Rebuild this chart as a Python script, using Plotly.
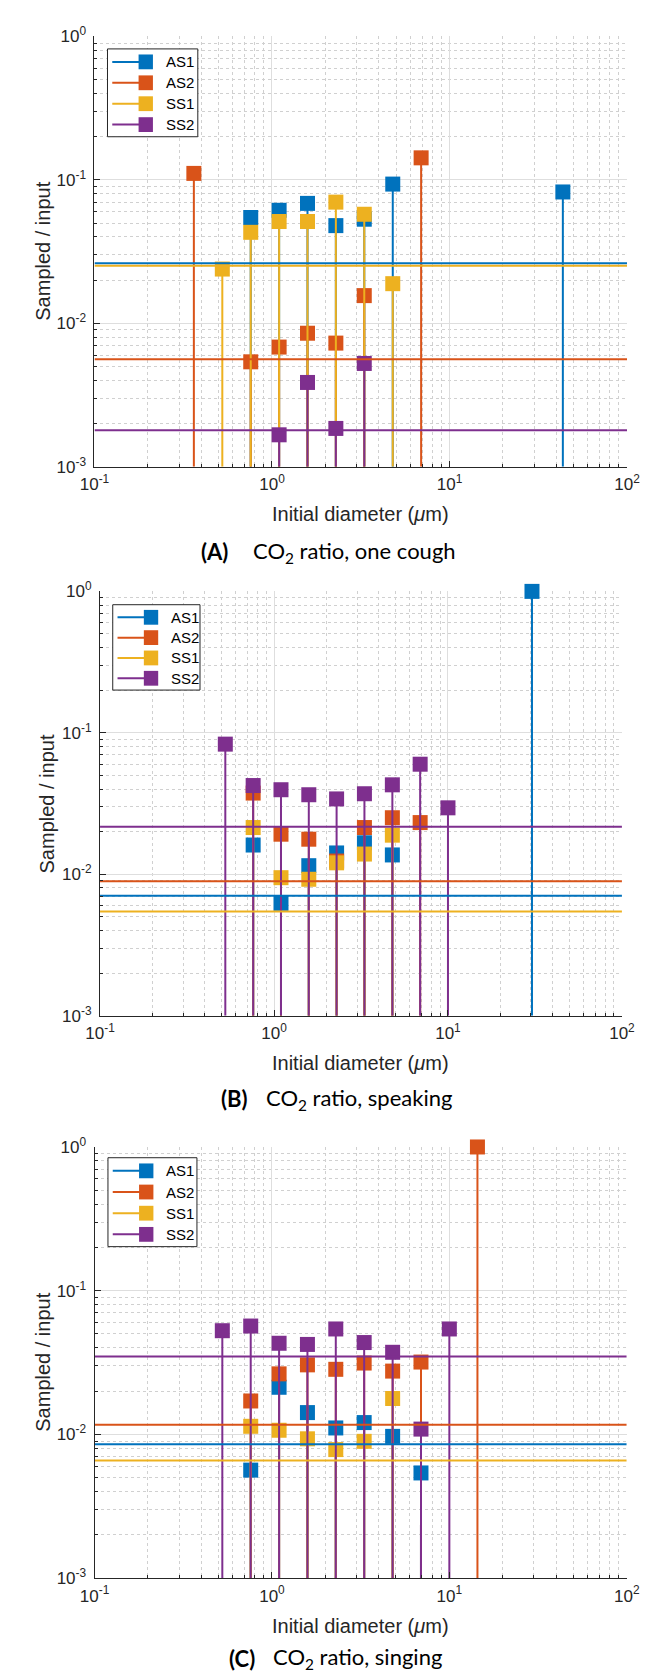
import plotly.graph_objects as go

W, H = 648, 1672

SERIES = ["AS1", "AS2", "SS1", "SS2"]
COLORS = {"AS1": "#0072BD", "AS2": "#D95319", "SS1": "#EDB120", "SS2": "#7E2F8E"}

# ---------------- Panel A: one cough ----------------
A_AS1_x = [0.759, 1.097, 1.585, 2.29, 3.31, 4.79, 43.5]
A_AS1_y = [0.0547, 0.0614, 0.0686, 0.048, 0.0532, 0.0935, 0.0824]
A_AS2_x = [0.363, 0.759, 1.097, 1.585, 2.29, 3.31, 6.92]
A_AS2_y = [0.111, 0.00539, 0.00683, 0.00853, 0.00728, 0.0156, 0.1425]
A_SS1_x = [0.525, 0.759, 1.097, 1.585, 2.29, 3.31, 4.79]
A_SS1_y = [0.0239, 0.0431, 0.0513, 0.0513, 0.070, 0.0576, 0.0189]
A_SS2_x = [1.097, 1.585, 2.29, 3.31]
A_SS2_y = [0.00167, 0.00387, 0.00185, 0.00525]
A_MEAN = {"AS1": 0.0262, "AS2": 0.00562, "SS1": 0.0252, "SS2": 0.0018}

# ---------------- Panel B: speaking ----------------
B_AS1_x = [0.759, 1.097, 1.585, 2.29, 3.31, 4.79, 30.4]
B_AS1_y = [0.0161, 0.00623, 0.0115, 0.01415, 0.0167, 0.0137, 1.0]
B_AS2_x = [0.759, 1.097, 1.585, 2.29, 3.31, 4.79, 6.92]
B_AS2_y = [0.0375, 0.0192, 0.0177, 0.0124, 0.0214, 0.0251, 0.0232]
B_SS1_x = [0.759, 1.097, 1.585, 2.29, 3.31, 4.79]
B_SS1_y = [0.0214, 0.00946, 0.00922, 0.01205, 0.0139, 0.0189]
B_SS2_x = [0.525, 0.759, 1.097, 1.585, 2.29, 3.31, 4.79, 6.92, 10.0]
B_SS2_y = [0.0832, 0.0424, 0.0396, 0.0365, 0.0341, 0.0371, 0.0429, 0.060, 0.0295]
B_MEAN = {"AS1": 0.00705, "AS2": 0.00893, "SS1": 0.00546, "SS2": 0.0217}

# ---------------- Panel C: singing ----------------
C_AS1_x = [0.759, 1.097, 1.585, 2.29, 3.31, 4.79, 6.92]
C_AS1_y = [0.00565, 0.0213, 0.0142, 0.0111, 0.0121, 0.0097, 0.0054]
C_AS2_x = [0.759, 1.097, 1.585, 2.29, 3.31, 4.79, 6.92, 14.4]
C_AS2_y = [0.0171, 0.0264, 0.0305, 0.0284, 0.0314, 0.0276, 0.0319, 1.0]
C_SS1_x = [0.759, 1.097, 1.585, 2.29, 3.31, 4.79]
C_SS1_y = [0.0114, 0.0107, 0.00933, 0.00785, 0.00896, 0.0178]
C_SS2_x = [0.525, 0.759, 1.097, 1.585, 2.29, 3.31, 4.79, 6.92, 10.0]
C_SS2_y = [0.0527, 0.0568, 0.0431, 0.0423, 0.0542, 0.0436, 0.0373, 0.0109, 0.0542]
C_MEAN = {"AS1": 0.00855, "AS2": 0.0117, "SS1": 0.0066, "SS2": 0.0348}

CAPTION_TAGS = ["(A)", "(B)", "(C)"]
CAPTION_TEXTS = ["CO<sub>2</sub> ratio, one cough",
                 "CO<sub>2</sub> ratio, speaking",
                 "CO<sub>2</sub> ratio, singing"]

X_RANGE = [0.1, 100.0]
Y_BOTTOM = 1e-3
X_TICKS = [0.1, 1, 10, 100]
X_TICKTEXT = ["10<sup>-1</sup>", "10<sup>0</sup>", "10<sup>1</sup>", "10<sup>2</sup>"]
Y_TICKS = [0.001, 0.01, 0.1, 1]
Y_TICKTEXT = ["10<sup>-3</sup>", "10<sup>-2</sup>", "10<sup>-1</sup>", "10<sup>0</sup>"]
X_MINOR = [m * 10.0 ** e for e in range(-1, 2) for m in range(2, 10)]
Y_MINOR = [m * 10.0 ** e for e in range(-3, 0) for m in range(2, 10)]

XLABEL = "Initial diameter (<i>μ</i>m)"
YLABEL = "Sampled / input"

PANEL_DATA = [
    {"AS1": (A_AS1_x, A_AS1_y), "AS2": (A_AS2_x, A_AS2_y),
     "SS1": (A_SS1_x, A_SS1_y), "SS2": (A_SS2_x, A_SS2_y), "mean": A_MEAN},
    {"AS1": (B_AS1_x, B_AS1_y), "AS2": (B_AS2_x, B_AS2_y),
     "SS1": (B_SS1_x, B_SS1_y), "SS2": (B_SS2_x, B_SS2_y), "mean": B_MEAN},
    {"AS1": (C_AS1_x, C_AS1_y), "AS2": (C_AS2_x, C_AS2_y),
     "SS1": (C_SS1_x, C_SS1_y), "SS2": (C_SS2_x, C_SS2_y), "mean": C_MEAN},
]

# layout geometry (pixels)
PLOT_BOX = [(74.7, 16.7, 631.3, 452.7), (80.5, 579.0, 626.0, 1009.0), (74.8, 1142.0, 631.0, 1579.0)]
LEGEND_BOX = [(88.3, 29.3, 182.7, 118.3), (93.8, 592.5, 185.0, 679.0), (88.8, 1152.9, 181.8, 1243.0)]
CAPTION_Y = [539, 1093, 1660]
CAPTION_TAG_X = [184, 205, 213]
CAPTION_TEXT_X = [238, 252, 259]
XLABEL_Y = [501, 1057, 1627]
YLABEL_X = [20, 25, 20]


def px(xp):
    return xp / W


def py(yp):
    return 1 - yp / H


fig = go.Figure()
AXIS_COLOR = "#262626"
TICK_FONT = dict(family="Liberation Sans, Arial, sans-serif", size=17, color=AXIS_COLOR)
LABEL_FONT = dict(family="Liberation Sans, Arial, sans-serif", size=20, color=AXIS_COLOR)

layout_axes = {}
annotations = []
shapes = []

for i, pdata in enumerate(PANEL_DATA):
    n = "" if i == 0 else str(i + 1)
    xa, ya = "x" + n, "y" + n
    # stems + markers
    for s in SERIES:
        xs, ys = pdata[s]
        sx, sy = [], []
        for xv, yv in zip(xs, ys):
            sx += [xv, xv, None]
            sy += [Y_BOTTOM, yv, None]
        fig.add_trace(go.Scatter(x=sx, y=sy, mode="lines", xaxis=xa, yaxis=ya,
                                 line=dict(color=COLORS[s], width=2),
                                 showlegend=False, hoverinfo="skip"))
        fig.add_trace(go.Scatter(x=xs, y=ys, mode="markers", xaxis=xa, yaxis=ya, name=s,
                                 marker=dict(symbol="square", size=15, color=COLORS[s],
                                             line=dict(width=0)),
                                 cliponaxis=False, showlegend=False))
    # mean lines
    for s in SERIES:
        fig.add_trace(go.Scatter(x=X_RANGE, y=[pdata["mean"][s]] * 2, mode="lines",
                                 xaxis=xa, yaxis=ya, line=dict(color=COLORS[s], width=2),
                                 showlegend=False, hoverinfo="skip"))

    x0, y0, x1, y1 = PLOT_BOX[i]
    common = dict(type="log", showline=True, linecolor=AXIS_COLOR, linewidth=1,
                  ticks="inside", ticklen=6, tickcolor=AXIS_COLOR, tickwidth=1,
                  showgrid=True, gridcolor="#dedede", gridwidth=1, zeroline=False,
                  mirror=False, tickfont=TICK_FONT)
    layout_axes["xaxis" + n] = dict(
        common, domain=[px(x0), px(x1)], range=[-1, 2], anchor=ya,
        tickmode="array", tickvals=X_TICKS, ticktext=X_TICKTEXT, ticklabelstandoff=2,
        minor=dict(tickmode="array", tickvals=X_MINOR, ticks="inside", ticklen=3,
                   tickcolor=AXIS_COLOR, showgrid=True, gridcolor="#d0d0d0",
                   griddash="dot", gridwidth=1))
    layout_axes["yaxis" + n] = dict(
        common, domain=[py(y1), py(y0)], range=[-3, 0], anchor=xa,
        tickmode="array", tickvals=Y_TICKS, ticktext=Y_TICKTEXT, ticklabelstandoff=4,
        minor=dict(tickmode="array", tickvals=Y_MINOR, ticks="inside", ticklen=3,
                   tickcolor=AXIS_COLOR, showgrid=True, gridcolor="#d0d0d0",
                   griddash="dot", gridwidth=1))

    # axis titles
    annotations.append(dict(text=XLABEL, x=px((x0 + x1) / 2), y=py(XLABEL_Y[i]),
                            xref="paper", yref="paper", xanchor="center", yanchor="middle",
                            showarrow=False, font=LABEL_FONT))
    annotations.append(dict(text=YLABEL, x=px(YLABEL_X[i]), y=py((y0 + y1) / 2),
                            xref="paper", yref="paper", xanchor="center", yanchor="middle",
                            textangle=-90, showarrow=False, font=LABEL_FONT))
    # captions
    annotations.append(dict(text="<b>" + CAPTION_TAGS[i] + "</b>", x=px(CAPTION_TAG_X[i]),
                            y=py(CAPTION_Y[i]), xref="paper", yref="paper",
                            xanchor="left", yanchor="middle", showarrow=False,
                            font=dict(family="Lato, sans-serif", size=22, color="black")))
    annotations.append(dict(text=CAPTION_TEXTS[i], x=px(CAPTION_TEXT_X[i]),
                            y=py(CAPTION_Y[i]), xref="paper", yref="paper",
                            xanchor="left", yanchor="middle", showarrow=False,
                            font=dict(family="Lato, sans-serif", size=22, color="black")))

    # legend box
    lx0, ly0, lx1, ly1 = LEGEND_BOX[i]
    shapes.append(dict(type="rect", xref="paper", yref="paper",
                       x0=px(lx0), x1=px(lx1), y0=py(ly1), y1=py(ly0),
                       line=dict(color=AXIS_COLOR, width=1), fillcolor="white", layer="above"))
    row_h = (ly1 - ly0) / 4.2
    for k, s in enumerate(SERIES):
        ry = ly0 + row_h * (0.62 + k)
        mx = lx0 + 40
        shapes.append(dict(type="line", xref="paper", yref="paper",
                           x0=px(lx0 + 5), x1=px(mx), y0=py(ry), y1=py(ry),
                           line=dict(color=COLORS[s], width=2), layer="above"))
        shapes.append(dict(type="rect", xref="paper", yref="paper",
                           x0=px(mx - 7.5), x1=px(mx + 7.5), y0=py(ry + 7.5), y1=py(ry - 7.5),
                           line=dict(width=0), fillcolor=COLORS[s], layer="above"))
        annotations.append(dict(text=s, x=px(lx0 + 59), y=py(ry), xref="paper", yref="paper",
                                xanchor="left", yanchor="middle", showarrow=False,
                                font=dict(family="Liberation Sans, Arial, sans-serif",
                                          size=15, color="black")))

fig.update_layout(
    width=W, height=H, margin=dict(l=0, r=0, t=0, b=0),
    paper_bgcolor="white", plot_bgcolor="white", showlegend=False,
    annotations=annotations, shapes=shapes, **layout_axes)

fig.write_html("out.html")
